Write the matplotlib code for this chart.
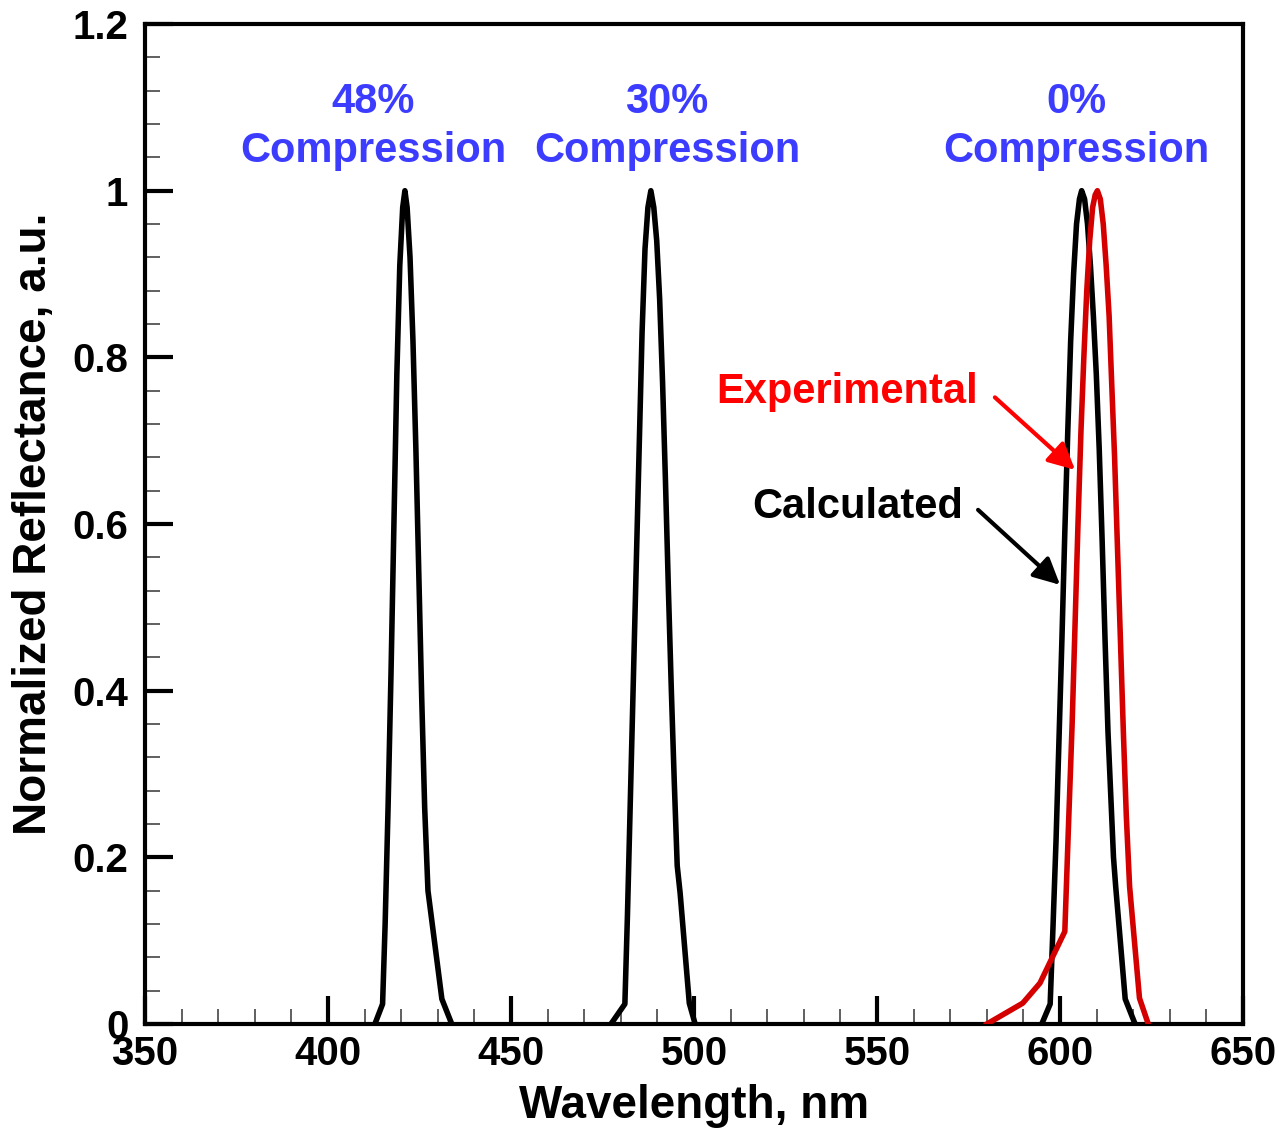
import matplotlib.pyplot as plt
from matplotlib.ticker import MultipleLocator, FuncFormatter

plt.rcParams['font.family'] = ['Liberation Sans', 'DejaVu Sans']
plt.rcParams['font.weight'] = 'bold'

# Calculated reflectance peaks (wavelength nm, normalized reflectance)
wl_48 = [412.8, 414.9, 415.6, 416.4, 417.2, 418.0, 418.8, 419.6, 420.4, 421.0,
         421.6, 422.4, 423.2, 424.0, 424.8, 425.6, 426.4, 427.3, 431.1, 433.8]
r_48 = [0.0, 0.024, 0.12, 0.26, 0.42, 0.60, 0.78, 0.91, 0.98, 1.0,
        0.98, 0.92, 0.82, 0.69, 0.54, 0.39, 0.26, 0.16, 0.03, 0.0]

wl_30 = [477.3, 481.1, 481.8, 482.6, 483.4, 484.2, 485.0, 485.8, 486.6, 487.4,
         488.2, 489.0, 489.8, 490.6, 491.4, 492.2, 493.0, 493.8, 494.6, 495.4,
         496.2, 498.7, 500.3]
r_30 = [0.0, 0.024, 0.13, 0.27, 0.41, 0.55, 0.69, 0.83, 0.93, 0.98,
        1.0, 0.98, 0.94, 0.87, 0.77, 0.65, 0.52, 0.40, 0.29, 0.19,
        0.157, 0.025, 0.0]

wl_0 = [595.0, 597.3, 598.1, 598.9, 599.7, 600.5, 601.3, 602.1, 602.9, 603.7,
        604.5, 605.3, 605.9, 606.7, 607.5, 608.3, 609.1, 609.9, 610.7, 611.5,
        612.3, 613.1, 613.9, 614.6, 615.2, 617.8, 620.5]
r_0 = [0.0, 0.024, 0.12, 0.22, 0.34, 0.46, 0.59, 0.71, 0.82, 0.90,
       0.96, 0.99, 1.0, 0.99, 0.96, 0.91, 0.85, 0.78, 0.69, 0.58,
       0.46, 0.35, 0.27, 0.20, 0.165, 0.03, 0.0]

# Measured spectrum, uncompressed sample
wl_exp = [580.0, 589.8, 594.5, 601.3, 602.4, 603.3, 604.1, 604.9, 605.7, 606.5,
          607.3, 608.1, 608.9, 609.6, 610.2, 611.0, 611.8, 612.6, 613.4, 614.1,
          614.9, 615.7, 616.5, 617.3, 618.1, 619.0, 621.7, 624.1]
r_exp = [0.0, 0.025, 0.049, 0.111, 0.25, 0.36, 0.48, 0.60, 0.71, 0.80,
         0.88, 0.94, 0.98, 0.995, 1.0, 0.99, 0.96, 0.91, 0.85, 0.77,
         0.68, 0.57, 0.46, 0.35, 0.25, 0.165, 0.031, 0.0]

peak_labels = ['48%\nCompression', '30%\nCompression', '0%\nCompression']
peak_label_x = [412.3, 492.6, 604.4]

fig = plt.figure(figsize=(12.79, 11.29), dpi=100)
ax = fig.add_axes([0.1134, 0.093, 0.8585, 0.8857])

for wl, r in [(wl_48, r_48), (wl_30, r_30), (wl_0, r_0)]:
    ax.plot(wl, r, color='black', lw=4, solid_joinstyle='round', zorder=3)
ax.plot(wl_exp, r_exp, color='#d40000', lw=4, solid_joinstyle='round', zorder=4)

ax.set_xlim(350, 650)
ax.set_ylim(0, 1.2)

# Ticks drawn inward, minor every 10 nm / 0.04
ax.xaxis.set_major_locator(MultipleLocator(50))
ax.xaxis.set_minor_locator(MultipleLocator(10))
ax.yaxis.set_major_locator(MultipleLocator(0.2))
ax.yaxis.set_minor_locator(MultipleLocator(0.04))
ax.yaxis.set_major_formatter(FuncFormatter(lambda v, p: f'{v:g}'))
ax.tick_params(which='major', direction='in', length=20, width=3, labelsize=29, pad=8)
ax.tick_params(which='minor', direction='in', length=11, width=1.2, color='#444444')
ax.tick_params(axis='y', which='major', pad=12)
ax.tick_params(top=False, right=False, which='both')
for lab in ax.get_xticklabels() + ax.get_yticklabels():
    lab.set_fontweight('bold')

for s in ax.spines.values():
    s.set_linewidth(3)

ax.set_xlabel('Wavelength, nm', fontsize=33, fontweight='bold')
ax.set_ylabel('Normalized Reflectance, a.u.', fontsize=33, fontweight='bold')
ax.xaxis.set_label_coords(0.5, -0.06)
ax.yaxis.set_label_coords(-0.081, 0.5)

for label, x in zip(peak_labels, peak_label_x):
    ax.text(x, 1.077, label, color='#3c3cff', fontsize=30, fontweight='bold',
            ha='center', va='center', linespacing=1.3)

ax.text(577.6, 0.758, 'Experimental', color='#ff0000', fontsize=30,
        fontweight='bold', ha='right', va='center')
ax.annotate('', xy=(604.1, 0.665), xytext=(582.2, 0.752),
            arrowprops=dict(arrowstyle='-|>', color='#ff0000', lw=3,
                            mutation_scale=40, shrinkA=0, shrinkB=0))

ax.text(573.5, 0.621, 'Calculated', color='black', fontsize=30,
        fontweight='bold', ha='right', va='center')
ax.annotate('', xy=(600.0, 0.527), xytext=(577.6, 0.617),
            arrowprops=dict(arrowstyle='-|>', color='black', lw=3,
                            mutation_scale=40, shrinkA=0, shrinkB=0))

fig.savefig('out.png', dpi=100)
